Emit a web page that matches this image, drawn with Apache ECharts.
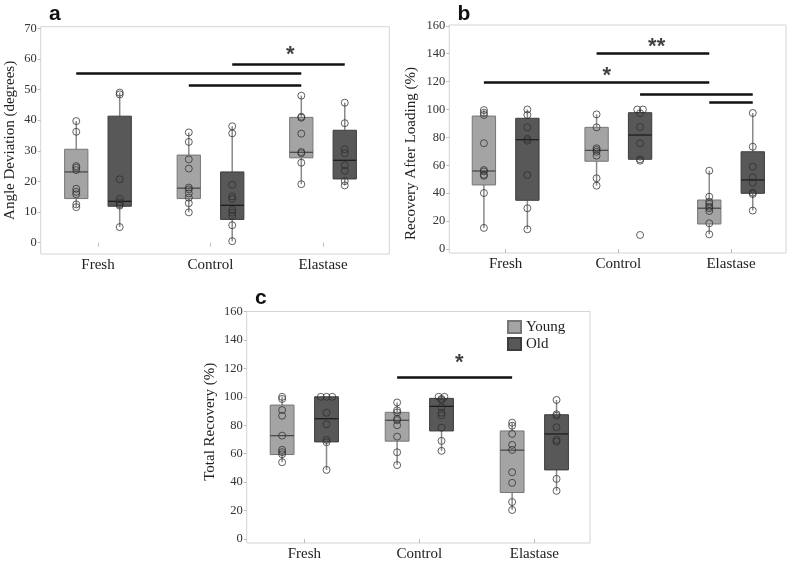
<!DOCTYPE html>
<html><head><meta charset="utf-8">
<script src="https://cdn.jsdelivr.net/npm/echarts@6/dist/echarts.min.js"></script>
<style>html,body{margin:0;padding:0;background:#fff}#c{width:791px;height:562px}</style>
</head><body><div id="c"></div>
<script>
// ---------------- DATA ----------------
const categories = ['Fresh', 'Control', 'Elastase'];
const groups = ['Young', 'Old'];

// Panel a: Angle Deviation (degrees)
const aYoungPts = [[39.7,36.2,25.0,24.5,23.7,17.6,16.6,15.8,12.5,11.6],[36.0,32.9,27.2,24.2,18.0,17.4,16.1,14.7,12.9,9.9],[48.0,41.1,40.8,35.6,29.6,29.2,26.1,19.1]];
const aOldPts   = [[49.0,48.4,20.7,14.3,13.2,12.5,12.1,5.1],[38.0,35.7,18.9,15.1,14.3,10.7,9.8,8.8,5.7,0.5],[45.7,39.0,30.5,29.2,25.3,23.5,20.1,18.7]];
// box stats: [low whisker, Q1, median, Q3, high whisker]
const aYoungBox = [[11.6,14.4,23.1,30.5,39.7],[9.9,14.4,17.8,28.6,36.0],[19.1,27.7,29.5,40.9,48.0]];
const aOldBox   = [[5.1,11.9,13.5,41.3,49.0],[0.5,7.6,12.2,23.1,38.0],[18.7,20.8,26.9,36.7,45.7]];
const aSig = [['Fresh','Young','Elastase','Young',55.4],['Control','Young','Elastase','Young',51.4],['Control','Old','Elastase','Old',58.4]];
const aStars = [['*',2.71,62.9]];
const aTicks = [0,10,20,30,40,50,60,70];

// Panel b: Recovery After Loading (%)
const bYoungPts = [[99.6,97.7,96.1,75.8,56.6,55.6,53.2,52.5,40.1,15.1],[96.5,87.2,72.2,71.0,69.7,66.9,50.7,45.4],[56.1,37.5,33.9,32.3,30.3,29.2,27.2,18.4,10.5]];
const bOldPts   = [[100,96.1,87.2,78.9,77.6,53.0,29.2,14.1],[100,100,97.3,87.5,75.8,64.3,63.3,10.0],[97.5,73.3,59.0,51.4,47.5,40.4,39.4,27.5]];
const bYoungBox = [[15.1,45.9,55.9,95.3,99.6],[45.4,62.9,70.7,87.2,96.5],[10.5,17.9,29.2,35.1,56.1]];
const bOldBox   = [[14.1,34.9,78.4,93.7,100],[63.3,64.3,81.7,97.7,100],[27.5,39.9,49.5,69.7,97.5]];
const bSig = [['Control','Young','Elastase','Young',140.4],['Fresh','Young','Elastase','Young',119.7],['Control','Old','Elastase','Old',111.1],['Elastase','Young','Elastase','Old',105.4]];
const bStars = [['**',2.34,148.6],['*',1.897,127.6]];
const bTicks = [0,20,40,60,80,100,120,140,160];

// Panel c: Total Recovery (%)
const cYoungPts = [[100,98.5,90.7,86.7,72.7,62.7,61.1,59.6,54.0],[96,90.5,89,84.5,83.5,80,72,61,52],[81.8,79.7,73.9,66.2,62.7,47.0,39.5,26.0,20.4]];
const cOldPts   = [[100,100,100,88.8,80.7,69.7,68.1,48.6],[100,100,98.5,97.8,92.6,88.8,87,78.3,69,62],[97.8,87.7,86.7,78.6,69.7,68.5,42.3,33.9]];
const cYoungBox = [[54.0,59.4,72.7,94.2,100],[52,68.8,83.5,89.1,96],[20.4,32.7,62.5,76.0,81.8]];
const cOldBox   = [[48.6,68.3,84.6,100,100],[62,76,93.3,98.9,100],[33.9,48.6,73.9,87.4,97.8]];
const cSig = [['Control','Young','Elastase','Young',113.7]];
const cStars = [['*',2.348,127.0]];
const cTicks = [0,20,40,60,80,100,120,140,160];

// ---------------- STYLE / LAYOUT ----------------
const GROUP_OFFSET = {Young: -0.193, Old: 0.193};
const BOX_W = 0.207;
const JITTER_STEP = 0.05;
const STYLE = {
  Young: {fill: '#a4a4a4', stroke: '#767676', median: '#4a4a4a'},
  Old:   {fill: '#585858', stroke: '#3c3c3c', median: '#1e1e1e'}
};
const WHISKER = '#8a8a8a';
const SERIF = 'Liberation Serif';
const SANS = 'Liberation Sans';

const panels = [
  {letter:'a', letterPos:{left:49, top:4}, grid:{left:40.7, top:26.7, width:348.6, height:227.3}, x:[0.491,3.589], y:[-3.69,70.5], ticks:aTicks,
   name:'Angle Deviation (degrees)', nameGap:23, namePad:[0,0,0,0],
   young:{pts:aYoungPts, box:aYoungBox}, old:{pts:aOldPts, box:aOldBox}, sig:aSig, stars:aStars},
  {letter:'b', letterPos:{left:457.5, top:4}, grid:{left:449.3, top:25, width:336.7, height:228}, x:[0.5,3.488], y:[-2.9,160.6], ticks:bTicks,
   name:'Recovery After Loading (%)', nameGap:31, namePad:[0,29,0,0],
   young:{pts:bYoungPts, box:bYoungBox}, old:{pts:bOldPts, box:bOldBox}, sig:bSig, stars:bStars},
  {letter:'c', letterPos:{left:255, top:287.5}, grid:{left:246.7, top:311.5, width:343.3, height:231.8}, x:[0.499,3.484], y:[-2.8,160], ticks:cTicks,
   name:'Total Recovery (%)', nameGap:29, namePad:[0,0,0,11],
   young:{pts:cYoungPts, box:cYoungBox}, old:{pts:cOldPts, box:cOldBox}, sig:cSig, stars:cStars}
];

function xOf(cat, grp) { return categories.indexOf(cat) + 1 + GROUP_OFFSET[grp]; }

function boxRender(grp) {
  const st = STYLE[grp];
  return function (params, api) {
    const x = api.value(0) + GROUP_OFFSET[grp];
    const lo = api.coord([x, api.value(1)]);
    const q1 = api.coord([x, api.value(2)]);
    const md = api.coord([x, api.value(3)]);
    const q3 = api.coord([x, api.value(4)]);
    const hi = api.coord([x, api.value(5)]);
    const hw = api.size([BOX_W, 0])[0] / 2;
    return {type: 'group', children: [
      {type: 'line', shape: {x1: lo[0], y1: lo[1], x2: q1[0], y2: q1[1]}, style: {stroke: WHISKER, lineWidth: 1.5}},
      {type: 'line', shape: {x1: q3[0], y1: q3[1], x2: hi[0], y2: hi[1]}, style: {stroke: WHISKER, lineWidth: 1.5}},
      {type: 'rect', shape: {x: q3[0] - hw, y: q3[1], width: 2 * hw, height: q1[1] - q3[1]}, style: {fill: st.fill, stroke: st.stroke, lineWidth: 1}},
      {type: 'line', shape: {x1: md[0] - hw, y1: md[1], x2: md[0] + hw, y2: md[1]}, style: {stroke: st.median, lineWidth: 1.3}}
    ]};
  };
}

function pointData(ptsByCat, grp) {
  const out = [];
  ptsByCat.forEach((vals, k) => {
    const counts = {};
    vals.forEach(v => { counts[v] = (counts[v] || 0) + 1; });
    const seen = {};
    vals.forEach(v => {
      const n = counts[v];
      const i = seen[v] = (seen[v] === undefined ? 0 : seen[v] + 1);
      const jit = n > 1 ? (i - (n - 1) / 2) * JITTER_STEP : 0;
      out.push([k + 1 + GROUP_OFFSET[grp] + jit, v]);
    });
  });
  return out;
}

const option = {
  animation: false,
  backgroundColor: '#fff',
  title: panels.map(p => ({text: p.letter, left: p.letterPos.left, top: p.letterPos.top, padding: 0,
    textStyle: {fontFamily: SANS, fontSize: 21, fontWeight: 'bold', color: '#111'}})),
  legend: {
    data: groups, orient: 'vertical', left: 507, top: 319.5, padding: 0,
    itemWidth: 13, itemHeight: 12, itemGap: 2, icon: 'rect',
    textStyle: {fontFamily: SERIF, fontSize: 15, color: '#222', lineHeight: 14}
  },
  grid: panels.map(p => Object.assign({show: true, borderColor: '#d4d4d4', borderWidth: 1, backgroundColor: 'transparent', containLabel: false}, p.grid)),
  xAxis: panels.map((p, i) => ({
    type: 'value', gridIndex: i, min: p.x[0], max: p.x[1],
    axisLine: {show: false},
    splitLine: {show: false},
    axisTick: {show: true, length: 4, lineStyle: {color: '#bdbdbd'}, customValues: [1, 2, 3]},
    axisLabel: {customValues: [1, 2, 3], formatter: v => categories[Math.round(v) - 1] || '', margin: 4,
      fontFamily: SERIF, fontSize: 15, color: '#222'}
  })),
  yAxis: panels.map((p, i) => ({
    type: 'value', gridIndex: i, min: p.y[0], max: p.y[1],
    axisLine: {show: false},
    splitLine: {show: false},
    axisTick: {show: true, length: 3, lineStyle: {color: '#bdbdbd'}, customValues: p.ticks},
    axisLabel: {customValues: p.ticks, margin: 4, fontFamily: SERIF, fontSize: 12.5, color: '#333'},
    name: p.name, nameLocation: 'middle', nameGap: p.nameGap,
    nameTextStyle: {fontFamily: SERIF, fontSize: 15, color: '#222', padding: p.namePad}
  })),
  series: []
};

panels.forEach((p, i) => {
  groups.forEach(grp => {
    const g = grp === 'Young' ? p.young : p.old;
    option.series.push({
      type: 'custom', name: grp, xAxisIndex: i, yAxisIndex: i,
      renderItem: boxRender(grp),
      itemStyle: {color: STYLE[grp].fill, borderColor: STYLE[grp].stroke, borderWidth: 1},
      encode: {x: 0, y: [1, 2, 3, 4, 5]},
      data: g.box.map((b, k) => [k + 1].concat(b)),
      z: 2
    });
  });
  groups.forEach(grp => {
    const g = grp === 'Young' ? p.young : p.old;
    option.series.push({
      type: 'scatter', name: grp + ' points', xAxisIndex: i, yAxisIndex: i,
      symbol: 'circle', symbolSize: 7,
      itemStyle: {color: 'rgba(0,0,0,0)', borderColor: 'rgba(45,45,45,0.75)', borderWidth: 1, opacity: 1},
      data: pointData(g.pts, grp), z: 3, silent: true
    });
  });
  option.series.push({
    type: 'lines', coordinateSystem: 'cartesian2d', xAxisIndex: i, yAxisIndex: i,
    lineStyle: {color: '#111', width: 2.6, opacity: 1},
    data: p.sig.map(s => ({coords: [[xOf(s[0], s[1]), s[4]], [xOf(s[2], s[3]), s[4]]]})),
    z: 4, silent: true
  });
  option.series.push({
    type: 'scatter', xAxisIndex: i, yAxisIndex: i, symbolSize: 1,
    itemStyle: {color: 'rgba(0,0,0,0)'},
    label: {show: true, position: 'inside', offset: [0, 5], formatter: d => d.value[2],
      fontFamily: SANS, fontSize: 22, fontWeight: 'bold', color: '#111'},
    data: p.stars.map(s => [s[1], s[2], s[0]]), z: 5, silent: true
  });
});

const chart = echarts.init(document.getElementById('c'), null, {renderer: 'canvas'});
chart.setOption(option);
</script>
</body></html>
